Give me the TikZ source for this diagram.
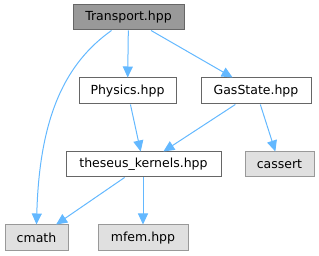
\documentclass[tikz,border=0pt]{standalone}
\usepackage{fontspec}
\setmainfont{DejaVu Sans}
\usetikzlibrary{arrows.meta}
\definecolor{edgec}{HTML}{63B8FF}
\definecolor{topfill}{HTML}{999999}
\definecolor{topdraw}{HTML}{666666}
\definecolor{sysfill}{HTML}{E0E0E0}
\definecolor{sysdraw}{HTML}{999999}
\begin{document}
\begin{tikzpicture}[x=1pt,y=-1pt,
  box/.style={draw=topdraw,fill=white,line width=1pt,inner sep=0pt,font=\fontsize{12.5}{14}\selectfont,text=black},
  topbox/.style={box,fill=topfill},
  sysbox/.style={box,draw=sysdraw,fill=sysfill},
  e/.style={draw=edgec,line width=1pt,-{Triangle[length=11pt,width=10pt]}}]
\useasboundingbox (0,0) rectangle (319,256);
\node[topbox,minimum width=111pt,minimum height=25pt] (tr) at (128.5,17.5) {Transport.hpp};
\node[box,minimum width=97pt,minimum height=26pt] (ph) at (127.5,91) {Physics.hpp};
\node[box,minimum width=110pt,minimum height=26pt] (gs) at (256,91) {GasState.hpp};
\node[box,minimum width=155pt,minimum height=25pt] (th) at (143.5,164.5) {theseus\_kernels.hpp};
\node[sysbox,minimum width=69pt,minimum height=25pt] (ca) at (279.5,164.5) {cassert};
\node[sysbox,minimum width=63pt,minimum height=26pt] (cm) at (36.5,238) {cmath};
\node[sysbox,minimum width=90pt,minimum height=26pt] (mf) at (143,238) {mfem.hpp};
\draw[e] ([xshift=-17pt]tr.south) .. controls +(-45,32) and +(3,-110) .. (cm.north);
\draw[e] (tr) -- (ph);
\draw[e] (tr) -- (gs);
\draw[e] (ph) -- (th);
\draw[e] (gs) -- (th);
\draw[e] (gs) -- (ca);
\draw[e] (th) -- (cm);
\draw[e] (th.south -| mf.north) -- (mf.north);
\end{tikzpicture}
\end{document}
